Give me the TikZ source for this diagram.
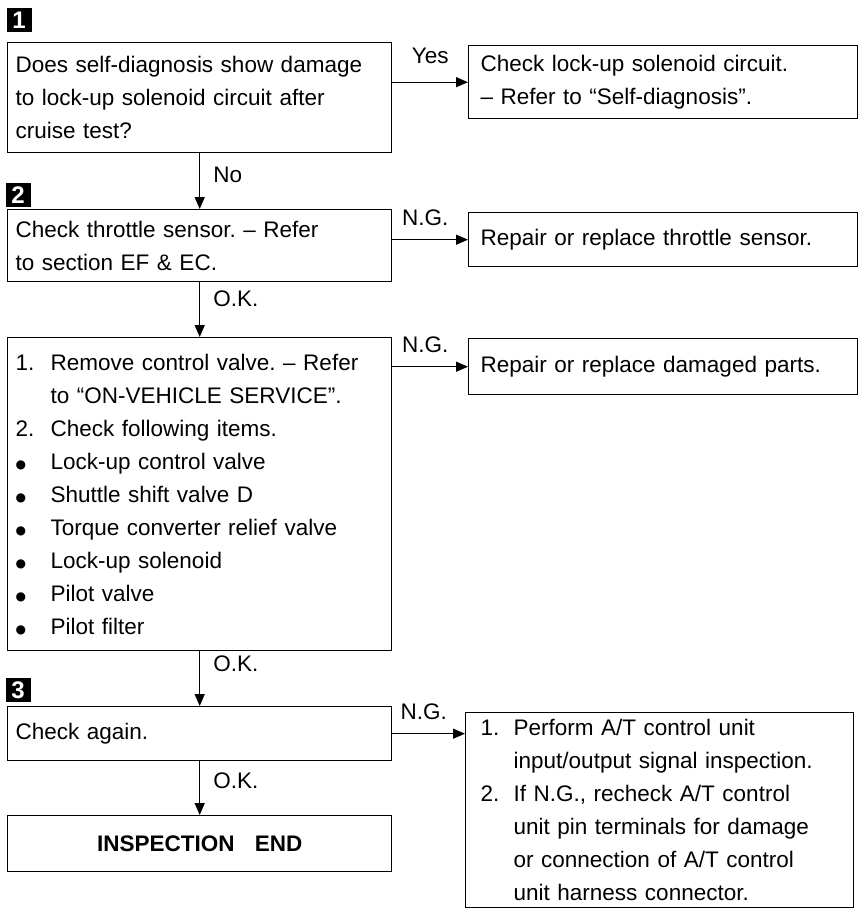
\documentclass[tikz,border=0pt]{standalone}
\usepackage{fontspec}
\setmainfont{Liberation Sans}
\newfontfamily\symfont{DejaVu Sans}
\usetikzlibrary{arrows.meta}
\newcommand{\itm}[1]{\makebox[35pt][l]{#1}}
\newcommand{\bul}{\makebox[35pt][l]{\raisebox{1pt}{\symfont\fontsize{12}{12}\selectfont ●}}}
\begin{document}
\frenchspacing
\begin{tikzpicture}[x=1pt,y=-1pt,
  box/.style={draw, line width=1.4pt, anchor=north west, align=left,
    inner ysep=0pt, font=\fontsize{22.5}{33}\selectfont},
  lbox/.style={box, text width=368pt, inner xsep=8pt},
  rbox/.style={box, text width=365pt, inner xsep=12pt},
  lbl/.style={font=\fontsize{22.5}{27}\selectfont, inner sep=1pt},
  arr/.style={line width=1.4pt, -{Triangle[length=12pt,width=10pt]}},
  marker/.style={fill=black, text=white, font=\bfseries\fontsize{24}{24}\selectfont,
    minimum width=25pt, minimum height=24pt, inner sep=0pt}]
\useasboundingbox (0,0) rectangle (861,911);

\node[marker] (m1) at (19,20) {1};
\node[marker] (m2) at (18,195) {2};
\node[marker] (m3) at (18,690) {3};

\node[lbox, minimum height=110pt] (b1) at (7,42)
  {Does self-diagnosis show damage\\to lock-up solenoid circuit after\\cruise test?};
\node[rbox, minimum height=73pt] (yes) at (468,45)
  {Check lock-up solenoid circuit.\\-- Refer to ``Self-diagnosis''.};
\node[lbox, minimum height=72pt] (b2) at (7,209)
  {Check throttle sensor. -- Refer\\to section EF \& EC.};
\node[rbox, minimum height=54pt] (thr) at (468,212)
  {Repair or replace throttle sensor.};
\node[lbox, minimum height=313pt] (b3) at (7,337)
  {\itm{1.}Remove control valve. -- Refer\\
   \hspace*{35pt}to ``ON-VEHICLE SERVICE''.\\
   \itm{2.}Check following items.\\
   \bul Lock-up control valve\\
   \bul Shuttle shift valve D\\
   \bul Torque converter relief valve\\
   \bul Lock-up solenoid\\
   \bul Pilot valve\\
   \bul Pilot filter\\[6pt]};
\node[rbox, minimum height=56pt] (dmg) at (468,338)
  {Repair or replace damaged parts.};
\node[lbox, minimum height=54pt] (b4) at (7,706) {Check again.};
\node[box, text width=358pt, inner xsep=15pt, minimum height=195pt] (perf) at (465,712)
  {\makebox[33pt][l]{1.}Perform A/T control unit\\
   \hspace*{33pt}input/output signal inspection.\\
   \makebox[33pt][l]{2.}If N.G., recheck A/T control\\
   \hspace*{33pt}unit pin terminals for damage\\
   \hspace*{33pt}or connection of A/T control\\
   \hspace*{33pt}unit harness connector.};
\node[lbox, align=center, minimum height=56pt, font=\bfseries\fontsize{22.5}{33}\selectfont] (b5) at (7,815)
  {INSPECTION\hspace{0.9em}END};

\draw[arr] (yes.west -| b1.east) -- node[lbl, anchor=south, yshift=17pt]{Yes} (yes.west);
\draw[arr] (b1.south) -- node[lbl, anchor=west, pos=0.39, xshift=12pt]{No} (b2.north);
\draw[arr] (thr.west -| b2.east) -- node[lbl, anchor=south, yshift=12pt, xshift=-5pt]{N.G.} (thr.west);
\draw[arr] (b2.south) -- node[lbl, anchor=west, pos=0.3, xshift=12pt]{O.K.} (b3.north);
\draw[arr] (dmg.west -| b3.east) -- node[lbl, anchor=south, yshift=12pt, xshift=-5pt]{N.G.} (dmg.west);
\draw[arr] (b3.south) -- node[lbl, anchor=west, pos=0.22, xshift=12pt]{O.K.} (b4.north);
\draw[arr] (b4.east) -- node[lbl, anchor=south, yshift=12pt, xshift=-5pt]{N.G.} (b4.east -| perf.west);
\draw[arr] (b4.south) -- node[lbl, anchor=west, pos=0.36, xshift=12pt]{O.K.} (b5.north);
\end{tikzpicture}
\end{document}
